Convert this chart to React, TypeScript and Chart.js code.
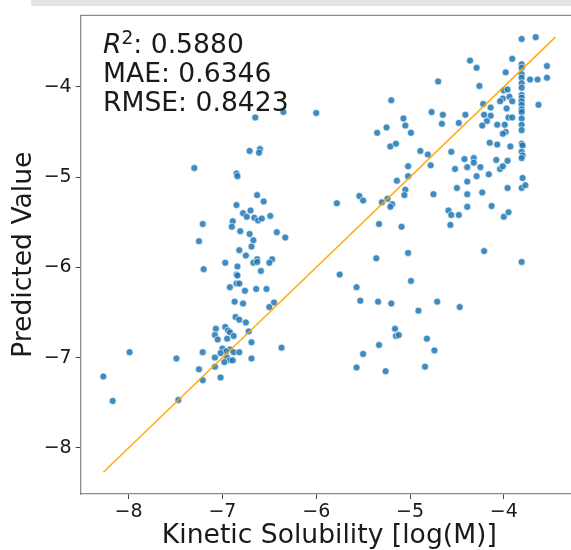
import React, { useEffect, useRef } from 'react';
import { Chart, registerables } from 'chart.js';

Chart.register(...registerables);

// Kinetic solubility (x) vs predicted value (y)
const KS_X = [
  -3.81, -3.66, -4.36, -4.29, -3.91, -3.81, -3.81, -3.54, -3.98, -3.81,
  -3.81, -3.72, -3.64, -3.54, -4.26, -3.81, -3.81, -4.0, -3.96, -3.94,
  -4.01, -4.04, -3.91, -3.81, -3.81, -3.81, -3.81, -3.63, -4.22, -4.14,
  -3.97, -3.81, -3.81, -3.81, -3.81, -3.81, -4.41, -4.21, -4.14, -3.95,
  -3.91, -4.18, -4.23, -4.48, -4.65, -4.66, -4.7, -4.07, -3.99, -3.98,
  -4.01, -4.15, -4.07, -3.93, -3.81, -3.8, -3.81, -3.8, -3.81, -4.56,
  -4.42, -4.32, -4.32, -4.08, -3.96, -4.52, -4.39, -4.25, -4.04, -4.01,
  -4.39, -4.29, -4.16, -3.8, -4.5, -3.96, -3.81, -3.77, -4.39, -4.23,
  -4.39, -4.13, -4.59, -4.56, -4.48, -4.57, -4.0, -3.95, -4.21, -3.81,
  -5.2, -4.77, -5.07, -5.25, -5.35, -5.05, -4.99, -5.21, -5.15, -4.89,
  -4.81, -4.78, -5.02, -5.02, -5.14, -5.05, -5.06, -4.75, -5.78, -5.54,
  -5.5, -5.3, -5.24, -5.19, -5.21, -5.33, -5.09,
  -5.36, -5.02, -5.75, -5.57, -4.99, -5.53, -5.34, -5.2, -4.91, -4.71,
  -4.47, -5.16, -5.15, -5.12, -4.82, -5.33, -4.74, -5.5, -5.57, -5.26, -4.84,
  -6.65, -6.35, -6.0,
  -6.71, -6.6, -6.61, -7.3, -6.85, -6.84, -6.63, -6.56, -6.85, -6.7,
  -6.78, -6.74, -6.66, -6.62, -6.58, -6.49, -6.89, -6.9, -7.21, -6.81,
  -6.71, -6.42, -6.33, -7.25, -6.67, -6.69, -6.82, -6.75, -6.63, -6.67,
  -6.63, -6.47, -6.5, -6.97, -6.84, -7.2, -6.59, -6.85, -6.84, -6.85,
  -6.82, -6.92, -6.76, -6.64, -6.53, -6.87, -6.78, -6.45, -6.5, -6.86,
  -6.82, -6.75, -7.07, -6.97, -6.94, -6.92, -6.88, -7.08, -7.05, -6.95,
  -6.72, -6.69, -7.0, -6.92, -6.96, -6.88, -6.82, -7.02, -7.21, -6.37,
  -7.08, -6.95, -6.92, -6.89, -6.98, -6.69, -7.08, -7.25, -7.21, -7.02,
  -7.99, -8.27, -8.17, -7.49, -7.47,
];

const PRED_Y = [
  -3.47, -3.45, -3.71, -3.79, -3.69, -3.75, -3.79, -3.77, -3.84, -3.86,
  -3.9, -3.92, -3.92, -3.9, -3.99, -3.96, -4.01, -4.04, -4.03, -4.11,
  -4.13, -4.16, -4.16, -4.09, -4.12, -4.16, -4.2, -4.2, -4.19, -4.23,
  -4.24, -4.25, -4.28, -4.35, -4.42, -4.48, -4.31, -4.31, -4.32, -4.34,
  -4.34, -4.38, -4.43, -4.4, -4.31, -4.41, -3.94, -4.42, -4.42, -4.5,
  -4.52, -4.62, -4.64, -4.66, -4.63, -4.65, -4.72, -4.76, -4.79, -4.72,
  -4.8, -4.79, -4.84, -4.81, -4.82, -4.91, -4.89, -4.89, -4.91, -4.88,
  -5.05, -4.99, -4.97, -5.01, -5.12, -5.12, -5.12, -5.09, -5.19, -5.17,
  -5.33, -5.32, -5.37, -5.42, -5.42, -5.53, -5.44, -5.39, -5.82, -5.94,
  -4.15, -4.28, -4.35, -4.45, -4.51, -4.43, -4.51, -4.66, -4.63, -4.71,
  -4.75, -4.87, -4.88, -4.99, -5.04, -5.14, -5.2, -5.19, -5.29, -5.21,
  -5.26, -5.28, -5.24, -5.3, -5.33, -5.52, -5.55,
  -5.9, -5.84, -6.08, -6.22, -6.15, -6.37, -6.38, -6.4, -6.48, -6.38,
  -6.44, -6.68, -6.76, -6.75, -6.79, -6.86, -6.92, -6.96, -7.11, -7.15, -7.1,
  -4.34, -4.28, -4.29,
  -4.71, -4.69, -4.73, -4.9, -4.96, -4.99, -5.2, -5.27, -5.31, -5.37,
  -5.4, -5.44, -5.45, -5.48, -5.46, -5.43, -5.49, -5.55, -5.52, -5.6,
  -5.63, -5.61, -5.67, -5.71, -5.7, -5.77, -5.81, -5.87, -5.91, -5.95,
  -5.94, -5.91, -5.95, -5.95, -5.99, -6.02, -6.04, -6.08, -6.09, -6.18,
  -6.18, -6.22, -6.26, -6.24, -6.24, -6.38, -6.4, -6.39, -6.44, -6.55,
  -6.58, -6.61, -6.68, -6.66, -6.7, -6.72, -6.76, -6.75, -6.8, -6.79,
  -6.71, -6.83, -6.9, -6.91, -6.93, -6.94, -6.94, -6.95, -6.94, -6.89,
  -7.0, -7.0, -7.03, -7.03, -7.05, -7.01, -7.1, -7.13, -7.25, -7.22,
  -6.94, -7.21, -7.48, -7.01, -7.47,
];

// identity (y = x) reference line end points
const IDEAL_X = [-8.27, -3.45];
const IDEAL_Y = [-8.27, -3.45];

const X_TICKS = [-8, -7, -6, -5, -4];
const Y_TICKS = [-8, -7, -6, -5, -4];
const X_RANGE = [-8.511, -3.209];
const Y_RANGE = [-8.511, -3.209];

const X_TITLE = 'Kinetic Solubility [log(M)]';
const Y_TITLE = 'Predicted Value';
const R2_TEXT = '0.5880';
const MAE_TEXT = '0.6346';
const RMSE_TEXT = '0.8423';

const FONT = "'DejaVu Sans', sans-serif";
const SPINE = '#8c8c8c';

const fmt = (v: number | string) => {
  const n = Number(v);
  return (n < 0 ? '\u2212' : '') + Math.abs(n);
};

const framePlugin = {
  id: 'frame',
  afterDraw(chart: any) {
    const { ctx, chartArea } = chart;
    ctx.save();
    ctx.strokeStyle = SPINE;
    ctx.lineWidth = 1.3;
    ctx.beginPath();
    ctx.moveTo(chartArea.left, chartArea.top);
    ctx.lineTo(chartArea.right, chartArea.top);
    ctx.lineTo(chartArea.right, chartArea.bottom);
    ctx.stroke();
    ctx.restore();
  },
};

export default function App() {
  const ref = useRef<HTMLCanvasElement | null>(null);

  useEffect(() => {
    if (!ref.current) return;
    const points = KS_X.map((x, i) => ({ x, y: PRED_Y[i] }));
    const line = IDEAL_X.map((x, i) => ({ x, y: IDEAL_Y[i] }));
    const chart = new Chart(ref.current, {
      type: 'scatter',
      data: {
        datasets: [
          {
            type: 'line',
            data: line,
            borderColor: 'rgba(255,165,0,0.9)',
            borderWidth: 1.6,
            pointRadius: 0,
            fill: false,
            order: 0,
          } as any,
          {
            data: points,
            backgroundColor: 'rgba(31,119,180,0.85)',
            borderColor: 'rgba(255,255,255,0.9)',
            borderWidth: 0.7,
            pointRadius: 3.5,
            order: 1,
          },
        ],
      },
      options: {
        responsive: false,
        maintainAspectRatio: false,
        animation: false,
        devicePixelRatio: 1,
        layout: { padding: { top: 11, right: 22, left: 0, bottom: 0 } },
        plugins: { legend: { display: false }, tooltip: { enabled: false } },
        scales: {
          x: {
            type: 'linear',
            position: 'bottom',
            min: X_RANGE[0],
            max: X_RANGE[1],
            afterFit: (s: any) => { s.height = 56; },
            afterBuildTicks: (s: any) => { s.ticks = X_TICKS.map((v) => ({ value: v })); },
            ticks: {
              callback: (v: any) => fmt(v),
              font: { family: FONT, size: 19 },
              color: '#1a1a1a',
              padding: 2,
              maxRotation: 0,
            },
            grid: { display: true, drawOnChartArea: false, drawTicks: true, tickLength: 5, color: '#444', lineWidth: 1 },
            border: { display: true, color: SPINE, width: 1.3 },
            title: {
              display: true,
              text: X_TITLE,
              font: { family: FONT, size: 26.6, lineHeight: 1 },
              color: '#1a1a1a',
              padding: { top: 0, bottom: 1 },
            },
          },
          y: {
            type: 'linear',
            position: 'left',
            min: Y_RANGE[0],
            max: Y_RANGE[1],
            afterFit: (s: any) => { s.width = 80.7; },
            afterBuildTicks: (s: any) => { s.ticks = Y_TICKS.map((v) => ({ value: v })); },
            ticks: {
              callback: (v: any) => fmt(v),
              font: { family: FONT, size: 19 },
              color: '#1a1a1a',
              padding: 4,
            },
            grid: { display: true, drawOnChartArea: false, drawTicks: true, tickLength: 5, color: '#444', lineWidth: 1 },
            border: { display: true, color: SPINE, width: 1.3 },
            title: {
              display: true,
              text: Y_TITLE,
              font: { family: FONT, size: 26.6, lineHeight: 1 },
              color: '#1a1a1a',
              padding: { top: 11, bottom: 0 },
            },
          },
        },
      },
      plugins: [framePlugin],
    } as any);
    return () => chart.destroy();
  }, []);

  const lineStyle: React.CSSProperties = {
    position: 'absolute',
    left: 103,
    fontFamily: FONT,
    fontSize: 26.6,
    lineHeight: '29px',
    color: '#1a1a1a',
    whiteSpace: 'nowrap',
  };

  return (
    <div style={{ position: 'fixed', left: 0, top: 0, width: 571, height: 550, overflow: 'hidden', background: '#fff' }}>
      <div style={{ position: 'absolute', left: 31, top: 0, width: 540, height: 6, background: '#e4e4e4' }} />
      <canvas ref={ref} width={600} height={550} style={{ position: 'absolute', left: 0, top: 0, width: 600, height: 550 }} />
      <div style={{ ...lineStyle, top: 29 }}>
        <span style={{ fontStyle: 'italic' }}>R</span>
        <span style={{ fontSize: '0.7em', position: 'relative', top: '-0.5em' }}>2</span>: {R2_TEXT}
      </div>
      <div style={{ ...lineStyle, top: 58 }}>MAE: {MAE_TEXT}</div>
      <div style={{ ...lineStyle, top: 87 }}>RMSE: {RMSE_TEXT}</div>
    </div>
  );
}
